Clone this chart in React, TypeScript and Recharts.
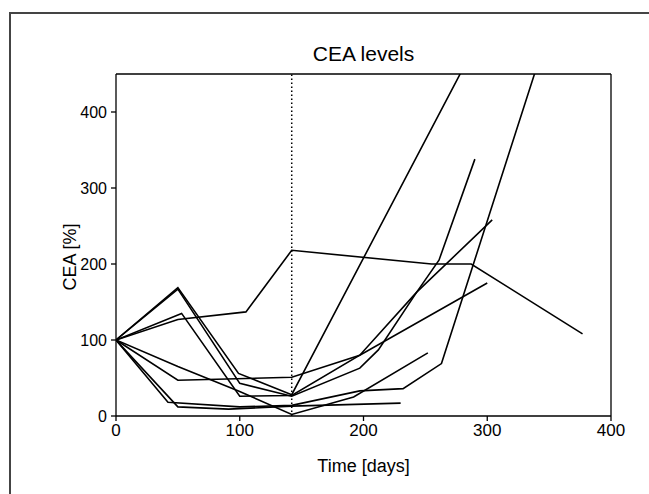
import React from "react";
import { LineChart, Line, XAxis, YAxis, ReferenceLine } from "recharts";

// Patient CEA series: days and CEA [%]
const daysP = [0, 50, 105, 142, 255, 287, 377];
const valsP = [100, 127, 137, 218, 200, 200, 108];
const daysC1 = [0, 50, 99, 142, 300];
const valsC1 = [100, 169, 56, 28, 518];
const daysC2 = [0, 50, 100, 142, 197, 212, 243, 261, 290];
const valsC2 = [100, 167, 43, 26, 63, 87, 163, 205, 338];
const daysC3 = [0, 53, 100, 142, 197, 243, 304];
const valsC3 = [100, 135, 26, 27, 80, 163, 258];
const daysB1 = [0, 42, 100, 142, 197, 232, 263, 350];
const valsB1 = [100, 18, 12, 14, 33, 36, 69, 510];
const daysB2 = [0, 50, 91, 142, 230];
const valsB2 = [100, 12, 9, 13, 17];
const daysV = [0, 50, 99, 142, 192, 252];
const valsV = [100, 65, 33, 2, 25, 83];
const daysF = [0, 50, 142, 197, 300];
const valsF = [100, 47, 51, 80, 175];

const treatmentDay = 142;
const xTicks = [0, 100, 200, 300, 400];
const yTicks = [0, 100, 200, 300, 400];

const zip = (d: number[], v: number[]) => d.map((x, i) => ({ day: x, cea: v[i] }));

const series = [
  zip(daysP, valsP),
  zip(daysC1, valsC1),
  zip(daysC2, valsC2),
  zip(daysC3, valsC3),
  zip(daysB1, valsB1),
  zip(daysB2, valsB2),
  zip(daysV, valsV),
  zip(daysF, valsF),
];

const FONT = "'Liberation Sans', Arial, Helvetica, sans-serif";

export default function App() {
  return (
    <div
      style={{
        position: "fixed",
        left: 0,
        top: 0,
        width: 649,
        height: 494,
        overflow: "hidden",
        background: "#fff",
        fontFamily: FONT,
      }}
    >
      <div
        style={{
          position: "absolute",
          left: 9,
          top: 12,
          width: 900,
          height: 900,
          borderLeft: "2px solid #444",
          borderTop: "2px solid #444",
        }}
      />
      <div style={{ position: "absolute", left: 0, top: 0 }}>
        <LineChart
          width={649}
          height={494}
          margin={{ top: 74, right: 38, bottom: 38, left: 56 }}
        >
          <XAxis
            type="number"
            dataKey="day"
            domain={[0, 400]}
            ticks={xTicks}
            allowDataOverflow
            axisLine={{ stroke: "#000", strokeWidth: 1.3 }}
            tickLine={{ stroke: "#000", strokeWidth: 1.3 }}
            tickSize={5}
            tickMargin={3}
            height={40}
            tick={{ fill: "#000", fontSize: 17, fontFamily: FONT }}
          />
          <YAxis
            type="number"
            dataKey="cea"
            domain={[0, 450]}
            ticks={yTicks}
            allowDataOverflow
            axisLine={{ stroke: "#000", strokeWidth: 1.3 }}
            tickLine={{ stroke: "#000", strokeWidth: 1.3 }}
            tickSize={5}
            tickMargin={4}
            width={60}
            tick={{ fill: "#000", fontSize: 16, fontFamily: FONT }}
          />
          <ReferenceLine y={450} stroke="#000" strokeWidth={1.3} />
          <ReferenceLine x={400} stroke="#000" strokeWidth={1.3} />
          <ReferenceLine
            x={treatmentDay}
            stroke="#000"
            strokeWidth={1.5}
            strokeDasharray="1.5 2.5"
          />
          {series.map((d, i) => (
            <Line
              key={i}
              data={d}
              dataKey="cea"
              type="linear"
              stroke="#000"
              strokeWidth={1.6}
              dot={false}
              activeDot={false}
              isAnimationActive={false}
            />
          ))}
        </LineChart>
      </div>
      <div
        style={{
          position: "absolute",
          left: 116,
          width: 495,
          top: 42,
          textAlign: "center",
          fontSize: 21,
          color: "#000",
        }}
      >
        CEA levels
      </div>
      <div
        style={{
          position: "absolute",
          left: 116,
          width: 495,
          top: 456,
          textAlign: "center",
          fontSize: 18,
          color: "#000",
        }}
      >
        Time [days]
      </div>
      <div
        style={{
          position: "absolute",
          left: 70,
          top: 257,
          transform: "translate(-50%, -50%) rotate(-90deg)",
          fontSize: 18,
          color: "#000",
          whiteSpace: "nowrap",
        }}
      >
        CEA [%]
      </div>
    </div>
  );
}
